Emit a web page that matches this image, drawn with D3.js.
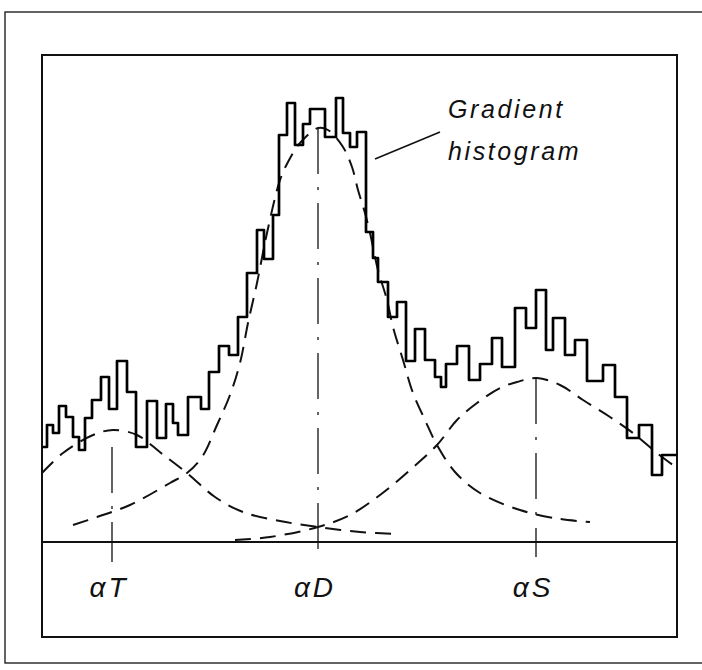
<!DOCTYPE html>
<html>
<head>
<meta charset="utf-8">
<script src="https://cdn.jsdelivr.net/npm/d3@7"></script>
<style>
  body { margin: 0; background: #fff; }
  text { font-family: "Liberation Sans", "DejaVu Sans", sans-serif; font-style: italic; fill: #111; }
</style>
</head>
<body>
<svg width="702" height="670"></svg>
<script>
// bin edges along the gradient-direction axis (0..635) and the count in each bin
const binEdges = [0,5,11,17,24,31,37,43,50,59,67,75,85,94,105,115,124,131,136,146,
  159,167,177,187,196,205,215,222,231,237,245,253,261,268,283,294,301,308,315,324,
  331,336,346,355,364,373,383,393,399,404,415,427,438,450,460,473,484,494,504,511,
  523,533,545,561,573,585,597,610,620,635];
const counts = [95,117,109,136,125,105,92,124,142,165,133,181,150,95,141,104,138,119,107,145,
  133,170,196,187,225,269,312,283,327,407,439,397,418,433,405,444,409,395,410,310,
  284,260,225,240,181,213,182,165,155,178,196,162,178,204,175,234,214,252,192,224,
  187,202,161,177,145,104,117,67,87];

// fitted component curves as [position, count]
const fitT = [[0,69],[21,89],[51,107],[71,112],[95,107],[119,89],[145,69],[173,45],
  [201,30],[238,21],[276,15],[318,10],[358,8]];
const fitD = [[31,17],[55,25],[88,37],[128,59],[145,69],[160,85],[175,117],[188,147],
  [198,179],[206,219],[215,259],[225,309],[238,362],[246,380],[258,399],[276,414],
  [286,412],[301,395],[310,375],[316,352],[323,329],[328,309],[336,272],[345,242],
  [351,215],[361,182],[371,149],[383,122],[395,97],[413,70],[438,49],[478,32],
  [518,23],[548,20]];
const fitS = [[193,2],[228,5],[276,15],[308,27],[338,47],[368,72],[395,97],[415,122],
  [435,139],[458,154],[475,160],[495,164],[518,157],[541,142],[568,125],[591,109],
  [615,89],[635,74]];

// peak markers: label, position, top and bottom of the centre line
const peakNames = ["αT", "αD", "αS"];
const peakPos = [70, 276, 494];
const peakTop = [95, 414, 164];
const peakBottom = [-20, -13, -15];

const annotation = ["Gradient", "histogram"];

const svg = d3.select("svg");
const W = +svg.attr("width"), H = +svg.attr("height");

svg.append("rect").attr("width", W).attr("height", H).attr("fill", "#fff");

const x = d3.scaleLinear().domain([0, 635]).range([42, 677]);
const y = d3.scaleLinear().domain([0, 500]).range([542, 42]);

// outer and inner frames
svg.append("rect")
  .attr("x", 5).attr("y", 12).attr("width", W + 10).attr("height", 651)
  .attr("fill", "none").attr("stroke", "#222").attr("stroke-width", 1.4);
svg.append("rect")
  .attr("x", x(0)).attr("y", 55).attr("width", x(635) - x(0)).attr("height", 637 - 55)
  .attr("fill", "none").attr("stroke", "#111").attr("stroke-width", 2);

// baseline
svg.append("line")
  .attr("x1", x(0)).attr("x2", x(635)).attr("y1", y(0)).attr("y2", y(0))
  .attr("stroke", "#111").attr("stroke-width", 2);

// centre lines of the components
svg.append("g").selectAll("line")
  .data(peakPos)
  .join("line")
    .attr("x1", d => x(d)).attr("x2", d => x(d))
    .attr("y1", (d, i) => y(peakTop[i])).attr("y2", (d, i) => y(peakBottom[i]))
    .attr("stroke", "#111").attr("stroke-width", 1.3)
    .attr("stroke-dasharray", "46,13,3,13");

// fitted curves
const curve = d3.line()
  .x(d => x(d[0]))
  .y(d => y(d[1]))
  .curve(d3.curveCatmullRom.alpha(0.5));

[fitT, fitD, fitS].forEach(pts => {
  svg.append("path")
    .datum(pts)
    .attr("fill", "none")
    .attr("stroke", "#111")
    .attr("stroke-width", 2)
    .attr("stroke-dasharray", "16,9")
    .attr("d", curve);
});

// histogram
const steps = counts.map((c, i) => [binEdges[i], c]);
steps.push([binEdges[binEdges.length - 1], counts[counts.length - 1]]);

svg.append("path")
  .datum(steps)
  .attr("fill", "none")
  .attr("stroke", "#000")
  .attr("stroke-width", 2.7)
  .attr("stroke-linejoin", "round")
  .attr("d", d3.line().x(d => x(d[0])).y(d => y(d[1])).curve(d3.curveStepAfter));

// annotation with leader line
svg.append("line")
  .attr("x1", x(333)).attr("y1", y(383)).attr("x2", x(398)).attr("y2", y(410))
  .attr("stroke", "#111").attr("stroke-width", 1.6);

svg.append("g").selectAll("text")
  .data(annotation)
  .join("text")
    .attr("x", x(406))
    .attr("y", (d, i) => y(424 - i * 42))
    .attr("font-size", 25)
    .attr("letter-spacing", 2.6)
    .text(d => d);

// peak labels
svg.append("g").selectAll("text")
  .data(peakNames)
  .join("text")
    .attr("x", (d, i) => x(peakPos[i]) - 3)
    .attr("y", 597)
    .attr("text-anchor", "middle")
    .attr("font-size", 28)
    .attr("letter-spacing", 3)
    .text(d => d);
</script>
</body>
</html>
